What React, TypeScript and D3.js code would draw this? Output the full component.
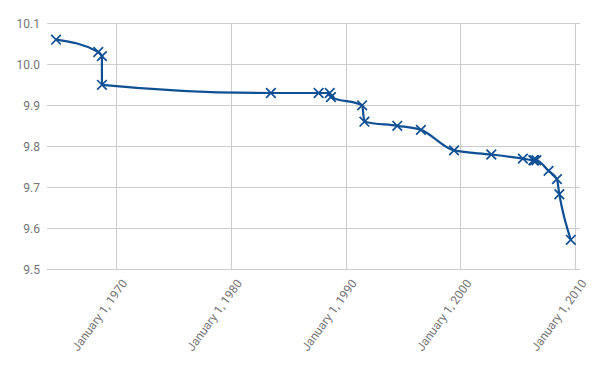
import React, { useEffect, useRef } from "react";
import * as d3 from "d3";

// 100 m progression, date of each mark and the time in seconds
const dates = [
  "1964-10-15", "1968-06-20", "1968-10-13", "1968-10-14", "1983-07-03",
  "1987-08-30", "1988-08-17", "1988-09-24", "1991-06-14", "1991-08-25",
  "1994-07-06", "1996-07-27", "1999-06-16", "2002-09-14", "2005-06-14",
  "2006-05-12", "2006-06-11", "2006-08-18", "2007-09-09", "2008-05-31",
  "2008-08-16", "2009-08-16",
];
const times = [
  10.06, 10.03, 10.02, 9.95, 9.93,
  9.93, 9.93, 9.92, 9.9, 9.86,
  9.85, 9.84, 9.79, 9.78, 9.77,
  9.766, 9.766, 9.766, 9.74, 9.72,
  9.683, 9.572,
];
const yTicks = [9.5, 9.6, 9.7, 9.8, 9.9, 10.0, 10.1];
const xTickYears = [1970, 1980, 1990, 2000, 2010];

const width = 596;
const height = 369;

export default function App() {
  const ref = useRef<SVGSVGElement>(null);

  useEffect(() => {
    const svg = d3.select(ref.current);
    svg.selectAll("*").remove();

    const left = 47;
    const right = 580;
    const top = 23.3;
    const bottom = 269.3;

    const parse = d3.timeParse("%Y-%m-%d");
    const data = dates.map((d, i) => ({ date: parse(d) as Date, t: times[i] }));

    const x = d3
      .scaleTime()
      .domain([new Date(1964, 0, 1), new Date(2010, 5, 5)])
      .range([left, right]);
    const y = d3.scaleLinear().domain([9.5, 10.1]).range([bottom, top]);

    const grid = svg.append("g");
    grid
      .selectAll("line.h")
      .data(yTicks)
      .join("line")
      .attr("x1", left)
      .attr("x2", right)
      .attr("y1", (d) => Math.round(y(d)) + 0.5)
      .attr("y2", (d) => Math.round(y(d)) + 0.5)
      .attr("stroke", "#cccccc");

    const xTicks = xTickYears.map((yr) => new Date(yr, 0, 1));
    svg
      .append("g")
      .selectAll("line")
      .data(xTicks)
      .join("line")
      .attr("x1", (d) => Math.round(x(d)) + 0.5)
      .attr("x2", (d) => Math.round(x(d)) + 0.5)
      .attr("y1", top)
      .attr("y2", bottom)
      .attr("stroke", "#cccccc");

    // y labels
    svg
      .append("g")
      .selectAll("text")
      .data(yTicks)
      .join("text")
      .attr("x", 40)
      .attr("y", (d) => y(d) + 4.3)
      .attr("text-anchor", "end")
      .attr("font-family", "Roboto, sans-serif")
      .attr("font-size", 12)
      .attr("fill", "#757575")
      .text((d) => d.toFixed(1));

    // x labels, slanted
    const fmt = d3.timeFormat("%B %-d, %Y");
    svg
      .append("g")
      .selectAll("text")
      .data(xTicks)
      .join("text")
      .attr("transform", (d) => `translate(${x(d) + 12},${bottom + 14}) rotate(-54)`)
      .attr("text-anchor", "end")
      .attr("font-family", "Roboto, sans-serif")
      .attr("font-size", 12)
      .attr("fill", "#757575")
      .text((d) => fmt(d));

    const color = "#0f4f94";

    const line = d3
      .line<{ date: Date; t: number }>()
      .x((d) => x(d.date))
      .y((d) => y(d.t))
      .curve(d3.curveMonotoneX);

    svg
      .append("path")
      .datum(data)
      .attr("d", line)
      .attr("fill", "none")
      .attr("stroke", color)
      .attr("stroke-width", 2.2)
      .attr("stroke-linejoin", "round");

    // x-shaped markers
    const s = 4.8;
    svg
      .append("g")
      .selectAll("path")
      .data(data)
      .join("path")
      .attr("transform", (d) => `translate(${x(d.date)},${y(d.t)})`)
      .attr("d", `M${-s},${-s}L${s},${s}M${-s},${s}L${s},${-s}`)
      .attr("stroke", color)
      .attr("stroke-width", 1.7)
      .attr("fill", "none");
  }, []);

  return (
    <div style={{ position: "absolute", left: 0, top: 0 }}>
      <svg ref={ref} width={width} height={height} style={{ display: "block", background: "#fff" }} />
    </div>
  );
}
